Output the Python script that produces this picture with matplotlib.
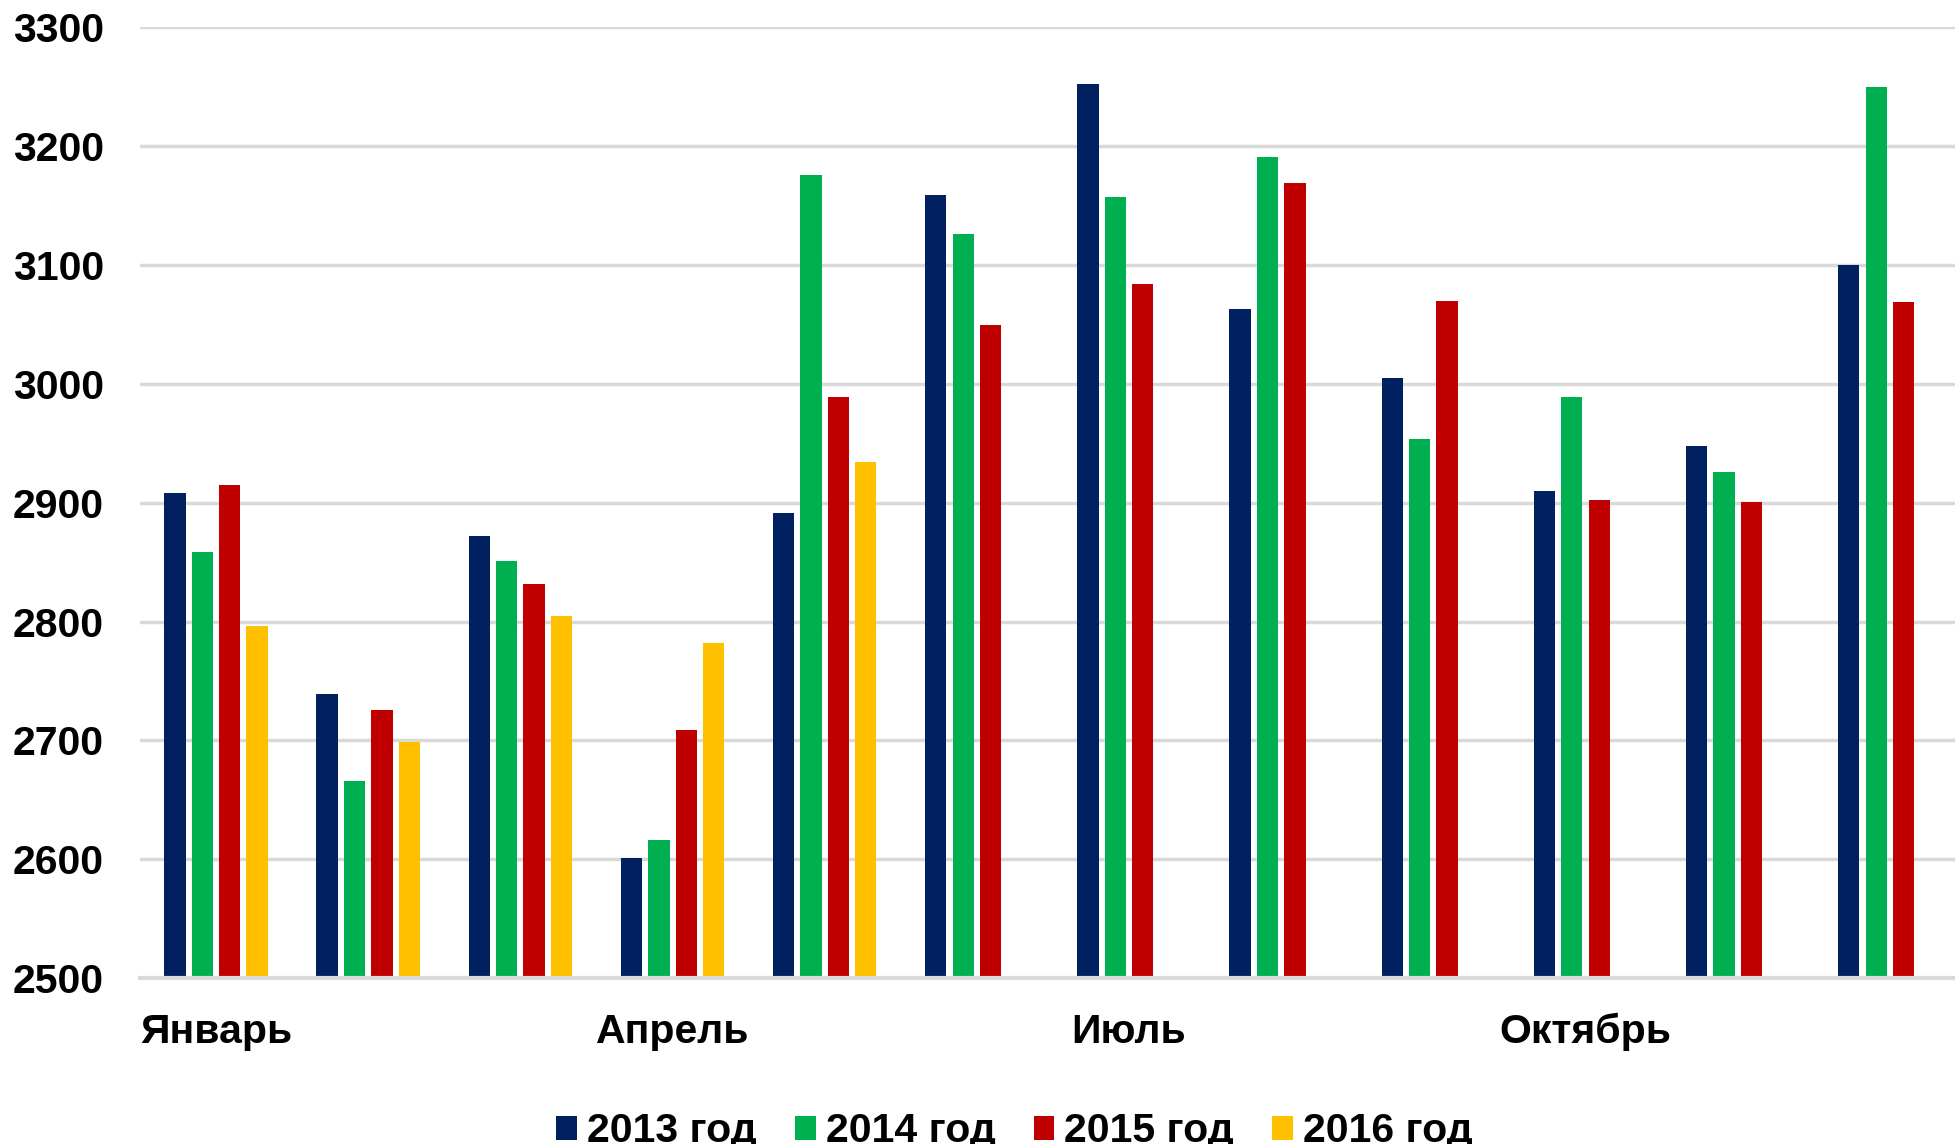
import numpy as np
import matplotlib.pyplot as plt

plt.rcParams['font.family'] = ['Liberation Sans', 'DejaVu Sans']
plt.rcParams['font.weight'] = 'bold'

months = ['Январь', 'Февраль', 'Март', 'Апрель', 'Май', 'Июнь',
          'Июль', 'Август', 'Сентябрь', 'Октябрь', 'Ноябрь', 'Декабрь']
shown_labels = ['Январь', '', '', 'Апрель', '', '', 'Июль', '', '', 'Октябрь', '', '']

y2013 = [2908, 2739, 2872, 2601, 2891, 3159, 3252, 3063, 3005, 2910, 2948, 3100]
y2014 = [2859, 2666, 2851, 2616, 3176, 3126, 3157, 3191, 2954, 2989, 2926, 3250]
y2015 = [2915, 2726, 2832, 2709, 2989, 3050, 3084, 3169, 3070, 2902, 2901, 3069]
y2016 = [2796, 2699, 2805, 2782, 2934]  # only January - May

series = [('2013 год', y2013, '#002060'),
          ('2014 год', y2014, '#00B050'),
          ('2015 год', y2015, '#C00000'),
          ('2016 год', y2016, '#FFC000')]

fig = plt.figure(figsize=(19.55, 11.44), dpi=100)
ax = fig.add_axes([0.0716, 0.145, 0.934, 0.831])

slot = 0.18
width = 0.14
for k, (name, vals, col) in enumerate(series):
    x = np.arange(len(vals)) + (k - 1.5) * slot
    ax.bar(x, np.array(vals) - 2500, width=width, bottom=2500, color=col,
           label=name, zorder=3)

ax.set_xlim(-0.5, 11.5)
ax.set_ylim(2500, 3300)
ax.set_yticks(np.arange(2500, 3301, 100))
ax.set_xticks(np.arange(12))
ax.set_xticklabels(shown_labels)
ax.tick_params(axis='y', length=0, pad=26, labelsize=29.5)
ax.tick_params(axis='x', length=0, pad=25, labelsize=29.5)

ax.grid(axis='y', color='#d9d9d9', linewidth=2.5, zorder=0)
for s in ['top', 'right', 'left']:
    ax.spines[s].set_visible(False)
ax.spines['bottom'].set_color('#d9d9d9')
ax.spines['bottom'].set_linewidth(3)
ax.spines['bottom'].set_zorder(4)

fig.legend(loc='center', bbox_to_anchor=(0.519, 0.011), ncol=4, frameon=False,
           fontsize=29.5, handlelength=0.5, handleheight=0.5,
           handletextpad=0.25, columnspacing=0.93)

fig.savefig('out.png', dpi=100)
